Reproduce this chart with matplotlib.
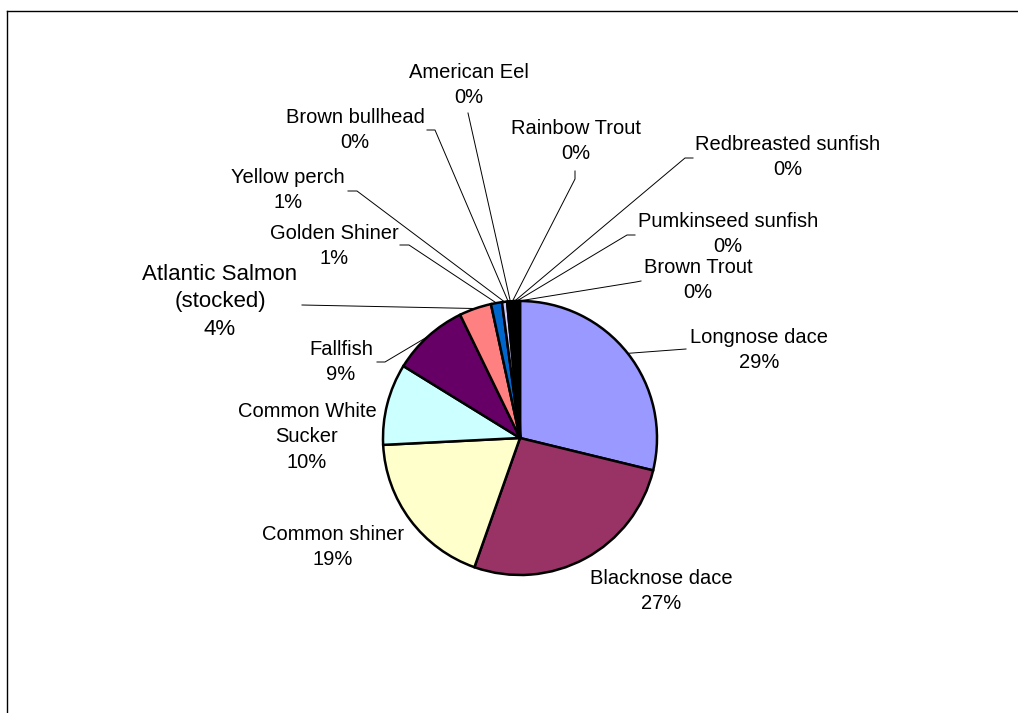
import numpy as np
import matplotlib
matplotlib.use("Agg")
import matplotlib.pyplot as plt

W, H = 1018, 713

# fish species, clockwise from 12 o'clock
species = ["Longnose dace", "Blacknose dace", "Common shiner",
           "Common White\nSucker", "Fallfish", "Atlantic Salmon\n(stocked)",
           "Golden Shiner", "Yellow perch", "Brown bullhead", "American Eel",
           "Rainbow Trout", "Redbreasted sunfish", "Pumkinseed sunfish",
           "Brown Trout"]
share = [28.8, 26.6, 18.8, 9.6, 9.0, 3.8, 1.3, 0.6,
         0.25, 0.25, 0.25, 0.25, 0.25, 0.25]
colors = ["#9999FF", "#993366", "#FFFFCC", "#CCFFFF", "#660066", "#FF8080",
          "#0066CC", "#CCCCFF", "#000080", "#FF00FF", "#FFFF00", "#00FFFF",
          "#800080", "#800000"]

# label centres in pixels (from top-left)
label_xy = [(759, 350), (661, 591), (333, 547), (307, 437), (341, 362),
            (220, 302), (334, 246), (288, 190), (355, 130), (469, 85),
            (576, 141), (788, 157), (728, 234), (698, 280)]
# leader line start / elbow points, None = no leader
leaders = [[(686, 349)], None, None, None, [(377, 362), (385, 362)],
           [(302, 305)], [(400, 245), (409, 245)], [(348, 191), (357, 191)],
           [(427, 130), (435, 130)], [(468, 113)], [(575, 171), (575, 179)],
           [(693, 158), (685, 158)], [(635, 235), (627, 235)],
           [(641, 281), (636, 282)]]

cx, cy, r = 520, H - 438, 137

fig = plt.figure(figsize=(W / 100, H / 100), dpi=100)
ax = fig.add_axes([0, 0, 1, 1])
wedges, _ = ax.pie(share, colors=colors, startangle=90, counterclock=False,
                   center=(cx, cy), radius=r,
                   wedgeprops=dict(edgecolor="black", linewidth=1.8))
ax.set_xlim(0, W)
ax.set_ylim(0, H)
ax.set_aspect("equal")
ax.axis("off")

total = sum(share)
for i, w in enumerate(wedges):
    pct = round(share[i] / total * 100)
    x, y = label_xy[i]
    big = species[i].startswith("Atlantic")
    ax.text(x, H - y, f"{species[i]}\n{pct}%", ha="center", va="center",
            fontsize=16 if big else 14.5, family="Liberation Sans",
            linespacing=1.4 if big else 1.45)
    if leaders[i]:
        mid = np.deg2rad((w.theta1 + w.theta2) / 2)
        pts = [(px, H - py) for px, py in leaders[i]]
        pts.append((cx + r * np.cos(mid), cy + r * np.sin(mid)))
        xs, ys = zip(*pts)
        ax.plot(xs, ys, color="black", lw=0.7, zorder=0)

# chart frame (cropped at right and bottom)
ax.plot([7, W], [H - 11, H - 11], color="black", lw=1)
ax.plot([7, 7], [H - 11, 0], color="black", lw=1)

fig.savefig("out.png", dpi=100)
